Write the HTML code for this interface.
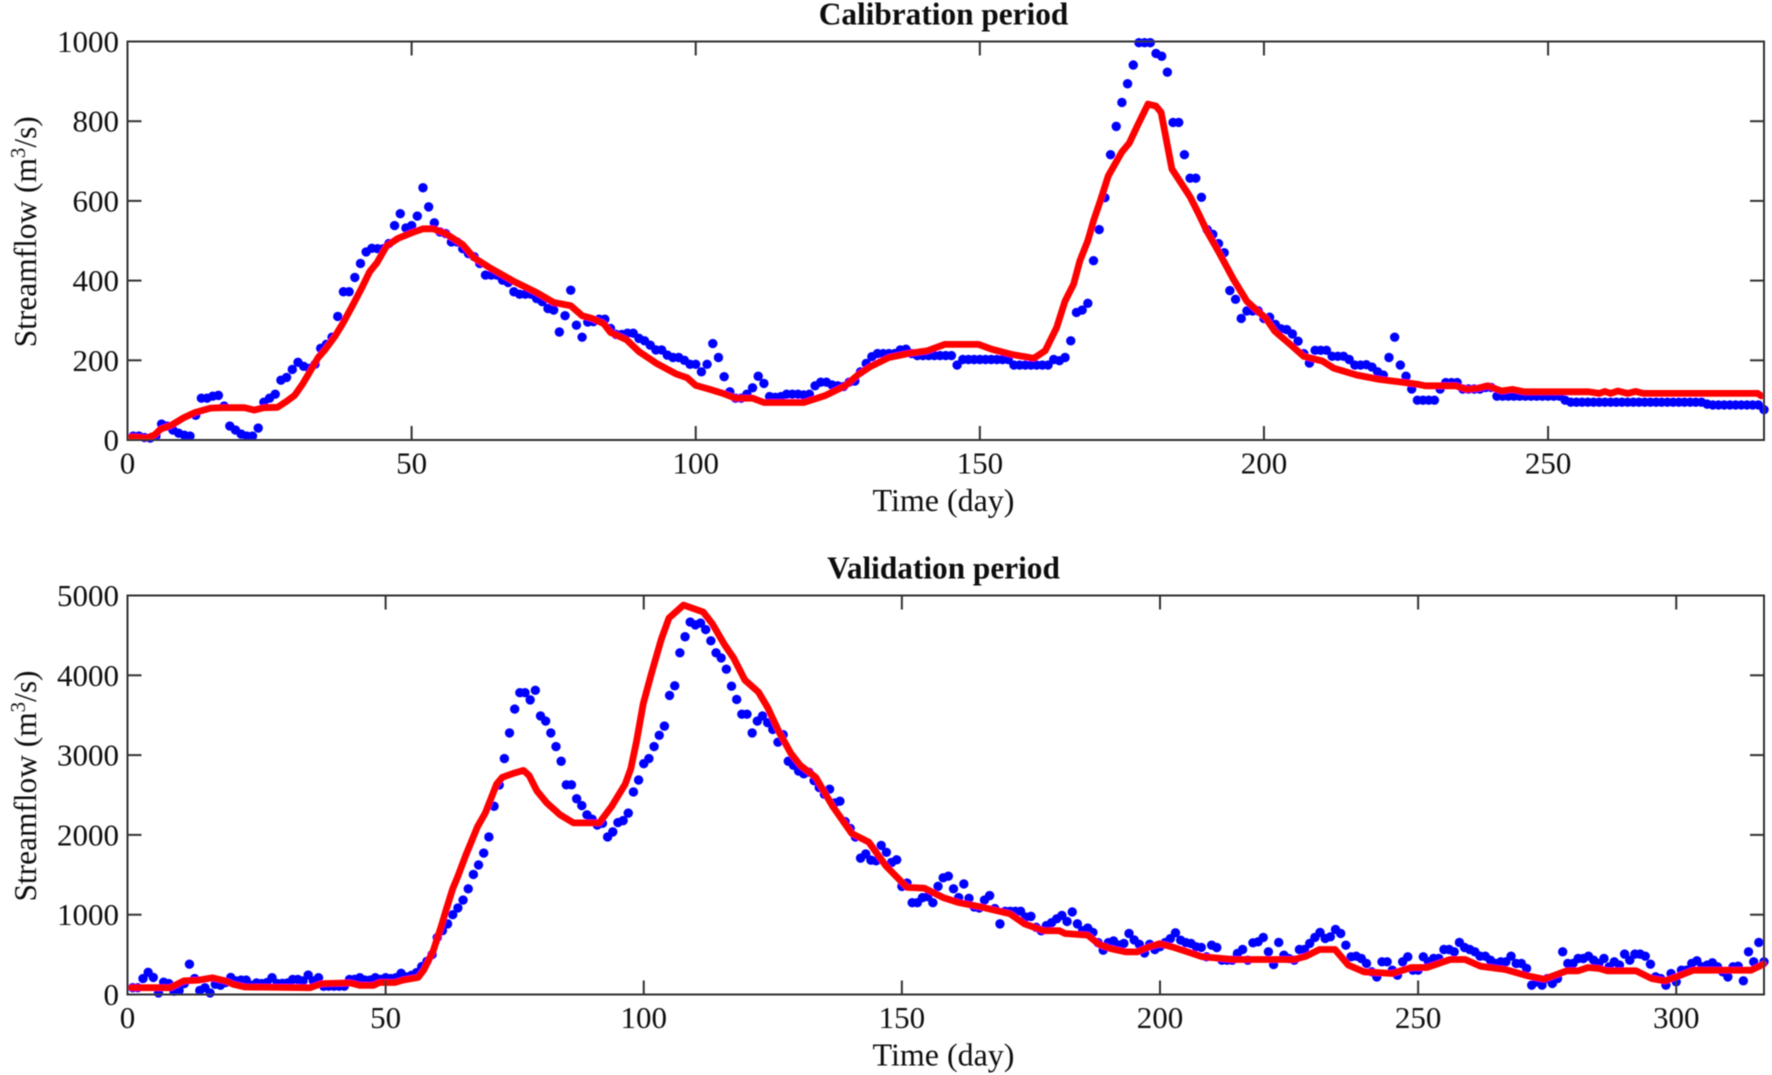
<!DOCTYPE html>
<html lang="en">
<head>
<meta charset="utf-8">
<title>Streamflow calibration and validation</title>
<style>
  html, body { margin: 0; padding: 0; background: #fff; }
  #figure { display: block; width: 1772px; height: 1075px; }
  text { font-family: "Liberation Serif", serif; fill: #111; }
</style>
</head>
<body>
<svg id="figure" xmlns="http://www.w3.org/2000/svg" width="1772" height="1075" viewBox="0 0 1772 1075">
  <defs>
    <filter id="soft" x="-2%" y="-2%" width="104%" height="104%"><feGaussianBlur stdDeviation="0.55"/></filter>
  </defs>
  <rect width="1772" height="1075" fill="#fff"/>
  <g id="root" filter="url(#soft)"></g>
</svg>
<script>
/* ---------- Calibration period data ---------- */
const calXMax = 288;
const calYMax = 1000;
const calXTicks = [50, 100, 150, 200, 250];
const calXLabels = ["0", "50", "100", "150", "200", "250"];
const calYTicks = [0, 200, 400, 600, 800, 1000];
const calObserved = [
10,10,6,5,10,40,35,25,17,12,
10,62,105,105,110,112,85,35,25,15,
10,10,30,95,105,115,150,157,177,195,
185,180,190,230,240,258,310,372,372,408,
443,472,481,480,480,493,538,568,532,538,
562,633,585,545,522,518,497,497,480,468,
460,443,414,414,414,401,395,372,366,366,
366,355,347,330,326,271,312,376,288,258,
296,297,303,303,280,265,265,268,268,255,
249,238,226,226,213,207,207,200,190,190,
171,190,242,207,159,121,105,105,115,131,
160,142,109,107,109,115,115,115,113,115,
136,145,145,138,136,134,145,148,171,192,
209,217,217,217,217,226,228,217,212,212,
212,212,212,212,212,188,202,202,202,202,
202,202,202,202,202,188,188,188,188,188,
188,188,202,199,207,249,320,326,343,450,
528,608,716,787,847,894,941,997,997,997,
970,963,923,797,797,716,657,657,609,528,
516,493,470,375,353,305,324,324,324,305,
308,290,279,277,266,248,217,193,225,225,
225,210,210,210,202,188,188,189,183,171,
163,207,258,188,160,128,100,100,100,100,
128,144,144,144,128,128,128,128,132,132,
110,110,110,110,110,110,110,110,110,110,
110,110,100,95,95,95,95,95,95,95,
95,95,95,95,95,95,95,95,95,95,
95,95,95,95,95,95,95,90,88,88,
88,88,88,88,88,88,88,76
];
const calSimDays = [0.7,3.4,4.8,5.8,7.8,9.9,11.9,14.6,16.6,20.6,22.3,24,26.4,28,29.4,30.8,32,33.5,34.8,36.5,37.9,39.5,41.2,42.6,43.9,45.6,47.6,50,52,53.8,56,59,61,64,68,72,75,78,80,81.8,83.8,85,87.8,90,93,96.5,98.5,100,102.5,105,107,110,112,119,122.7,126.3,128.7,130.7,134,137.4,140.8,143.8,149.8,152,155.5,159.5,161.5,163.5,165,166.5,167.6,169,170,171.2,172.6,175,176.3,177.6,179.6,181,181.9,183.8,187,188.5,190,192,194.6,197,200.3,201.9,204.3,207,210.3,212.3,216.3,220.3,223.7,227,228.4,231,233.7,235.7,237.7,239.4,241.8,243.8,245.8,257.2,259,260,261,262.3,264,265.4,266.8,286.9,287.5];
const calSimValues = [8,5,13,27,38,56,69,80,81,81,75,81,82,97,112,140,169,206,227,260,293,335,381,422,445,487,506,520,530,530,518,490,457,430,398,370,345,337,312,305,292,270,252,222,193,166,156,137,127,116,105,105,94,94,111,136,165,184,207,217,224,240,240,228,215,205,224,282,349,391,450,500,550,600,663,723,745,785,843,838,822,680,610,568,523,473,404,348,306,273,244,210,198,180,163,152,146,140,136,136,136,127,130,136,123,127,121,121,117,122,117,123,117,122,117,117,111];

/* ---------- Validation period data ---------- */
const valXMax = 317;
const valYMax = 5000;
const valXTicks = [50, 100, 150, 200, 250, 300];
const valXLabels = ["0", "50", "100", "150", "200", "250", "300"];
const valYTicks = [0, 1000, 2000, 3000, 4000, 5000];
const valObserved = [
85,85,200,278,214,20,154,137,40,50,
137,380,200,50,85,20,128,115,150,214,
170,180,180,115,145,137,150,210,137,140,
145,188,188,170,244,170,210,103,105,105,
105,105,188,190,210,180,180,210,190,210,
200,210,265,220,240,274,350,415,500,714,
800,885,1000,1085,1184,1325,1504,1624,1773,1974,
2359,2624,2957,3278,3577,3782,3782,3692,3812,3491,
3427,3278,3107,2923,2628,2628,2453,2367,2252,2197,
2124,2145,1974,2038,2154,2179,2273,2538,2688,2893,
2957,3107,3248,3363,3748,3868,4282,4483,4667,4632,
4654,4573,4432,4282,4218,4077,3863,3697,3513,3513,
3278,3427,3491,3406,3321,3162,3256,2923,2872,2800,
2765,2786,2679,2594,2508,2573,2401,2423,2167,2081,
1974,1709,1761,1684,1675,1868,1782,1654,1688,1355,
1397,1150,1150,1214,1226,1150,1355,1462,1483,1325,
1214,1385,1205,1098,1085,1184,1239,1077,885,1043,
1043,1043,1043,970,979,842,799,863,900,949,
991,915,1034,885,799,833,778,650,556,650,
671,620,640,765,684,628,521,628,564,600,
650,700,773,681,650,639,598,590,472,618,
589,430,430,430,514,564,430,648,660,715,
535,376,652,493,450,430,564,564,640,715,
777,702,723,815,765,618,472,480,451,389,
284,221,410,410,305,242,410,472,305,305,
472,410,451,451,564,564,535,652,589,564,
535,480,480,430,389,410,410,480,389,389,
326,117,159,117,200,138,200,535,389,389,
451,451,480,430,389,451,347,410,368,506,
430,506,506,480,380,221,200,117,263,159,
305,305,389,422,347,368,397,347,284,221,
347,355,171,535,410,652,410
];
const valSimDays = [0.8,8.3,10.9,13.8,16.4,19,20.5,22.8,35.4,37.6,43.2,45,47.7,48.8,51.8,53.3,56.3,57.4,59.2,60.7,61.8,63,64,65.5,67.8,69.3,71.5,72.6,74.9,76.7,77.8,79.3,81.2,83.8,86.4,91.4,93.8,96.4,97.5,98.6,99.9,101.5,103.4,104.9,107.7,111.5,113.3,115.6,117.4,119.6,122.2,124,126.3,128.5,130.3,133.3,136.6,140.3,143.6,146.9,151,154.3,158,160.9,165.3,170.9,173.8,177.5,180.5,181.6,186,188.2,190.4,193.4,195.6,197.4,199.9,202.3,205.3,208.2,214.2,226,228.3,230.9,233.9,236.5,239.5,245,248.7,251.7,256.2,259.1,262.1,266.9,271.4,274.4,278.8,281,282.9,285.1,286.6,292.2,295.2,297.8,300.4,303.3,314.5,316.9];
const valSimValues = [85,85,171,180,209,171,128,94,85,137,145,115,115,150,150,180,214,308,543,842,1077,1325,1483,1739,2103,2274,2637,2722,2774,2808,2744,2551,2402,2252,2150,2150,2359,2637,2829,3171,3641,4026,4453,4718,4880,4795,4645,4389,4218,3940,3791,3598,3278,3021,2872,2722,2359,2017,1910,1611,1342,1333,1214,1154,1098,1013,885,799,799,765,744,628,577,534,534,585,637,598,535,472,439,439,480,564,564,368,284,263,338,338,439,439,355,313,230,192,297,297,338,326,297,297,200,171,230,305,305,380];

/* ---------- Drawing ---------- */
const NS = "http://www.w3.org/2000/svg";
const root = document.getElementById("root");

function make(tag, attrs, parent) {
  const el = document.createElementNS(NS, tag);
  for (const k in attrs) el.setAttribute(k, attrs[k]);
  parent.appendChild(el);
  return el;
}

function drawPanel(cfg) {
  const box = cfg.box;
  const sx = v => box.left + (v / cfg.xMax) * (box.right - box.left);
  const sy = v => box.bottom - (v / cfg.yMax) * (box.bottom - box.top);

  const panel = make("g", {}, root);
  
  

  const dots = make("g", { fill: "#0000ff" }, panel);
  
  
  cfg.observed.forEach((v, i) => {
    const dot = make("circle", { cx: sx(i + 1), cy: sy(v), r: 4.7 }, dots);
    
    
  });

  const d = cfg.simDays.map((t, i) => (i ? "L" : "M") + sx(t).toFixed(1) + " " + sy(cfg.simValues[i]).toFixed(1)).join(" ");
  const line = make("path", { d: d, fill: "none", stroke: "#ff0000", "stroke-width": 6.8, "stroke-linejoin": "round", "stroke-linecap": "round" }, panel);
  
  

  const frame = make("rect", { x: box.left, y: box.top, width: box.right - box.left, height: box.bottom - box.top, fill: "none", stroke: "#333", "stroke-width": 2 }, panel);
  
  

  const tickLen = 14;
  cfg.xTicks.forEach(t => {
    const x = sx(t);
    const low = make("line", { x1: x, x2: x, y1: box.bottom, y2: box.bottom - tickLen, stroke: "#333", "stroke-width": 2 }, panel);
    
    
    const high = make("line", { x1: x, x2: x, y1: box.top, y2: box.top + tickLen, stroke: "#333", "stroke-width": 2 }, panel);
    
    
  });
  cfg.xLabels.forEach(lbl => {
    const text = make("text", { x: sx(+lbl), y: box.bottom + 33.5, "text-anchor": "middle", "font-size": 31 }, panel);
    text.textContent = lbl;
    
    
  });
  cfg.yTicks.forEach(t => {
    const y = sy(t);
    if (t !== 0 && t !== cfg.yMax) {
      const left = make("line", { x1: box.left, x2: box.left + tickLen, y1: y, y2: y, stroke: "#333", "stroke-width": 2 }, panel);
      
      
      const right = make("line", { x1: box.right, x2: box.right - tickLen, y1: y, y2: y, stroke: "#333", "stroke-width": 2 }, panel);
      
      
    }
    const text = make("text", { x: 119, y: y + 10.5, "text-anchor": "end", "font-size": 31 }, panel);
    text.textContent = String(t);
    
    
  });

  const title = make("text", { x: 943.5, y: box.top - 17, "text-anchor": "middle", "font-size": 31.3, "font-weight": "bold" }, panel);
  title.textContent = cfg.title;
  
  

  const xTitle = make("text", { x: 943.5, y: box.bottom + 71, "text-anchor": "middle", "font-size": 32 }, panel);
  xTitle.textContent = "Time (day)";
  
  

  const cy = (box.top + box.bottom) / 2 - 9;
  const yTitle = make("text", { transform: "translate(36 " + cy + ") rotate(-90)", "text-anchor": "middle", "font-size": 31.4 }, panel);
  
  
  yTitle.appendChild(document.createTextNode("Streamflow (m"));
  const sup = make("tspan", { dy: -11, "font-size": 21 }, yTitle);
  sup.textContent = "3";
  const rest = make("tspan", { dy: 11 }, yTitle);
  rest.textContent = "/s)";
}

drawPanel({
  name: "calibration", title: "Calibration period",
  box: { left: 127.5, right: 1764, top: 41.5, bottom: 440 },
  xMax: calXMax, yMax: calYMax, xTicks: calXTicks, xLabels: calXLabels, yTicks: calYTicks,
  observed: calObserved, simDays: calSimDays, simValues: calSimValues
});
drawPanel({
  name: "validation", title: "Validation period",
  box: { left: 127.5, right: 1764, top: 595.5, bottom: 994.5 },
  xMax: valXMax, yMax: valYMax, xTicks: valXTicks, xLabels: valXLabels, yTicks: valYTicks,
  observed: valObserved, simDays: valSimDays, simValues: valSimValues
});
</script>
</body>
</html>
